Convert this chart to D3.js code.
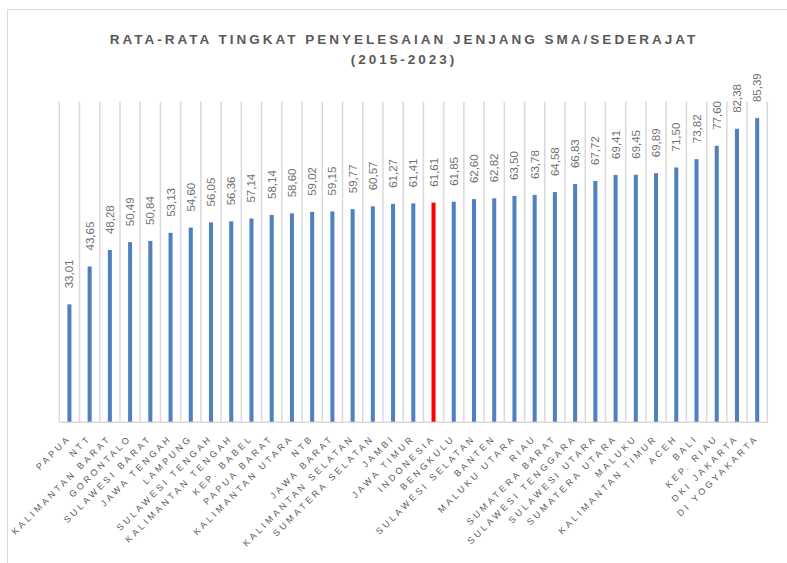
<!DOCTYPE html>
<html>
<head>
<meta charset="utf-8">
<script src="https://cdn.jsdelivr.net/npm/d3@7"></script>
<style>
  body { margin: 0; background: #fff; }
  svg { display: block; font-family: "Liberation Sans", Arial, sans-serif; }
</style>
</head>
<body>
<svg id="chart" width="787" height="563"></svg>
<script>
// data
const provinces = ["PAPUA", "NTT", "KALIMANTAN BARAT", "GORONTALO", "SULAWESI BARAT", "JAWA TENGAH",
  "LAMPUNG", "SULAWESI TENGAH", "KALIMANTAN TENGAH", "KEP. BABEL", "PAPUA BARAT", "KALIMANTAN UTARA",
  "NTB", "JAWA BARAT", "KALIMANTAN SELATAN", "SUMATERA SELATAN", "JAMBI", "JAWA TIMUR", "INDONESIA",
  "BENGKULU", "SULAWESI SELATAN", "BANTEN", "MALUKU UTARA", "RIAU", "SUMATERA BARAT",
  "SULAWESI TENGGARA", "SULAWESI UTARA", "SUMATERA UTARA", "MALUKU", "KALIMANTAN TIMUR", "ACEH",
  "BALI", "KEP. RIAU", "DKI JAKARTA", "DI YOGYAKARTA"];
const rates = [33.01, 43.65, 48.28, 50.49, 50.84, 53.13, 54.60, 56.05, 56.36, 57.14, 58.14, 58.60,
  59.02, 59.15, 59.77, 60.57, 61.27, 61.41, 61.61, 61.85, 62.60, 62.82, 63.50, 63.78, 64.58,
  66.83, 67.72, 69.41, 69.45, 69.89, 71.50, 73.82, 77.60, 82.38, 85.39];
const highlight = "INDONESIA";
const titleLines = ["RATA-RATA TINGKAT PENYELESAIAN JENJANG SMA/SEDERAJAT", "(2015-2023)"];

const data = provinces.map((p, i) => ({ name: p, value: rates[i] }));

const svg = d3.select("#chart"),
      margin = { top: 101.7, right: 19.7, bottom: 141.3, left: 59.3 },
      width = +svg.attr("width") - margin.left - margin.right,
      height = +svg.attr("height") - margin.top - margin.bottom;

// chart frame
svg.append("rect")
  .attr("x", 7.5).attr("y", 9.5)
  .attr("width", 800).attr("height", 600)
  .attr("fill", "none")
  .attr("stroke", "#d9d9d9");

// title
svg.append("g").selectAll("text")
  .data(titleLines)
  .enter()
  .append("text")
  .attr("x", 404)
  .attr("y", (d, i) => 44 + i * 20)
  .attr("text-anchor", "middle")
  .attr("fill", "#595959")
  .style("font-size", "13.5px")
  .style("font-weight", "bold")
  .style("letter-spacing", "3px")
  .text(d => d);

const g = svg.append("g").attr("transform", `translate(${margin.left},${margin.top})`);

const x = d3.scaleBand()
            .domain(provinces)
            .range([0, width])
            .padding(0);

const y = d3.scaleLinear()
            .domain([0, 90])
            .range([height, 0]);

// vertical grid lines between categories
const edges = provinces.map(p => x(p)).concat([width]);
g.selectAll(".vgrid")
  .data(edges)
  .enter()
  .append("line")
  .attr("class", "vgrid")
  .attr("x1", d => d).attr("x2", d => d)
  .attr("y1", 0).attr("y2", height)
  .attr("stroke", "#d9d9d9")
  .attr("stroke-width", 1.5);

// X Axis
const xAxis = g.append("g")
  .attr("transform", `translate(0,${height})`)
  .call(d3.axisBottom(x).tickSize(0).tickSizeOuter(0));
xAxis.select(".domain").attr("stroke", "#d9d9d9").attr("stroke-width", 1.5);
xAxis.selectAll("text")
  .attr("fill", "#595959")
  .style("font-size", "9px")
  .style("letter-spacing", "3px")
  .attr("text-anchor", "end")
  .attr("dy", null)
  .attr("y", null)
  .attr("transform", "translate(2,17) rotate(-45)");

// Bars
const barW = x.bandwidth() * 0.2;
g.selectAll(".bar")
  .data(data)
  .enter()
  .append("rect")
  .attr("class", "bar")
  .attr("x", d => x(d.name) + x.bandwidth() / 2 - barW / 2)
  .attr("y", d => y(d.value))
  .attr("width", barW)
  .attr("height", d => height - y(d.value))
  .attr("fill", d => d.name === highlight ? "#ff0000" : "#4f81bd");

// value labels
const fmt = v => v.toFixed(2).replace(".", ",");
g.selectAll(".val")
  .data(data)
  .enter()
  .append("text")
  .attr("class", "val")
  .attr("transform", d => `translate(${x(d.name) + x.bandwidth() / 2 + 4},${y(d.value) - 16}) rotate(-90)`)
  .attr("fill", "#707070")
  .style("font-size", "11.5px")
  .text(d => fmt(d.value));
</script>
</body>
</html>
